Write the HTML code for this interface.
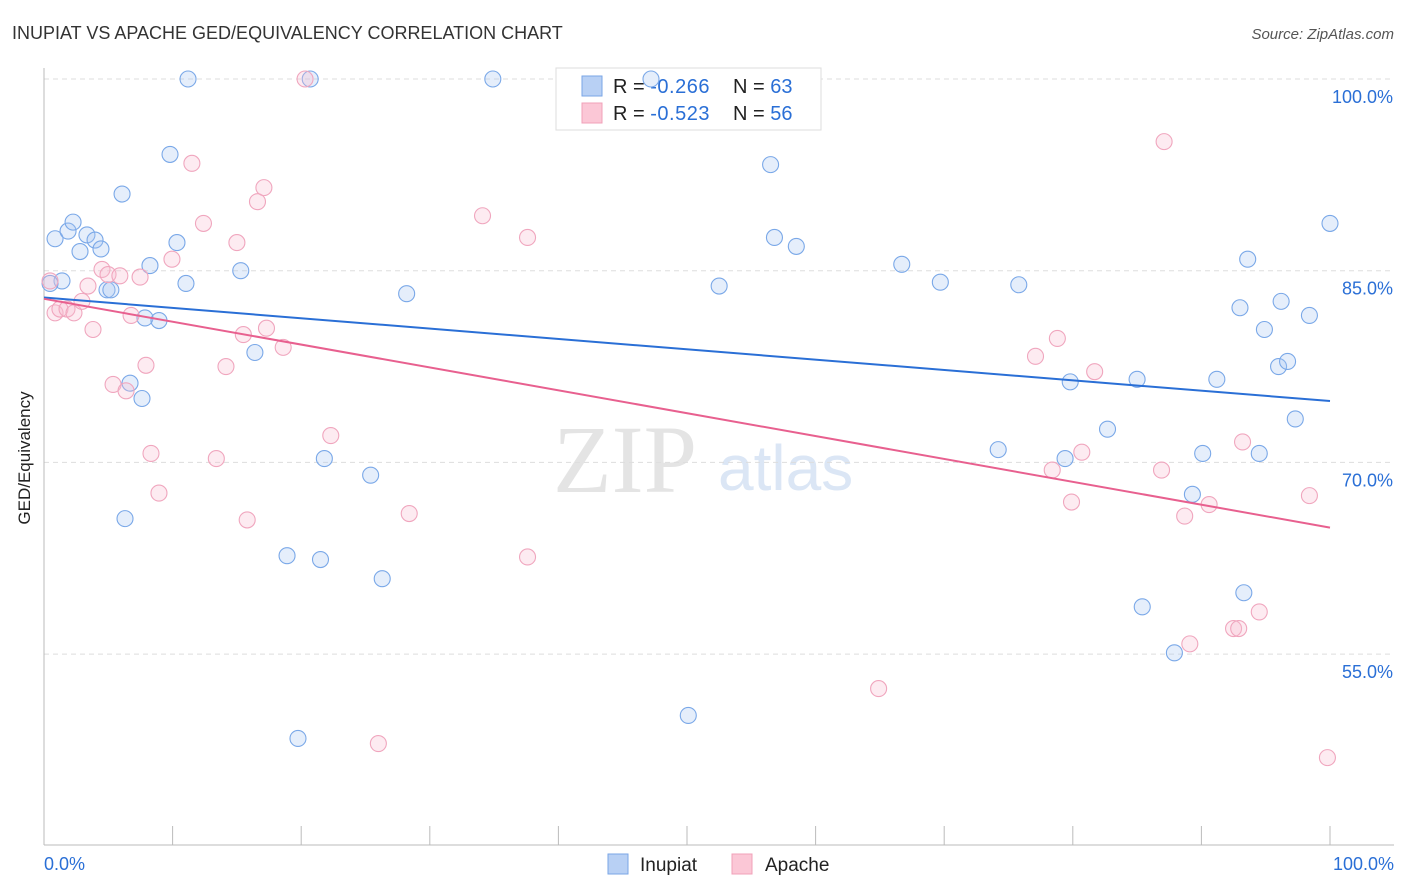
<!DOCTYPE html>
<html><head><meta charset="utf-8"><style>
body{margin:0;background:#fff;font-family:"Liberation Sans",sans-serif;}
svg{display:block}
</style></head><body>
<svg id="chart" width="1406" height="892" xmlns="http://www.w3.org/2000/svg">
<text x="12" y="39" font-size="18" fill="#333">INUPIAT VS APACHE GED/EQUIVALENCY CORRELATION CHART</text>
<text x="1394" y="39" font-size="15" fill="#555" font-style="italic" text-anchor="end">Source: ZipAtlas.com</text>
<text x="553" y="492" font-size="96" fill="#e4e4e4" font-family="Liberation Serif,serif" text-anchor="start">ZIP</text>
<text x="718" y="490" font-size="64" fill="#dbe6f5" text-anchor="start">atlas</text>
<g id="grid"></g>
<g id="axes"></g>
<g>
<rect x="556" y="68" width="265" height="62" fill="#fff" stroke="#ddd"/>
<rect x="582" y="76" width="20" height="20" fill="#b8d0f4" stroke="#7aa6e6"/>
<rect x="582" y="103" width="20" height="20" fill="#fbc7d6" stroke="#f0a0b8"/>
<text x="613" y="93" font-size="20" fill="#222">R = <tspan fill="#2a6fd6" letter-spacing="0.5">-0.266</tspan></text>
<text x="733" y="93" font-size="20" fill="#222">N = <tspan fill="#2a6fd6">63</tspan></text>
<text x="613" y="120" font-size="20" fill="#222">R = <tspan fill="#2a6fd6" letter-spacing="0.5">-0.523</tspan></text>
<text x="733" y="120" font-size="20" fill="#222">N = <tspan fill="#2a6fd6">56</tspan></text>
</g>
<g id="pts"></g>
<g id="trends"></g>
<g>
<rect x="608" y="854" width="20" height="20" fill="#b8d0f4" stroke="#7aa6e6"/>
<text x="640" y="871" font-size="19" fill="#222">Inupiat</text>
<rect x="732" y="854" width="20" height="20" fill="#fbc7d6" stroke="#f0a0b8"/>
<text x="765" y="871" font-size="19" fill="#222">Apache</text>
</g>
<text x="30" y="458" font-size="17" fill="#222" transform="rotate(-90 30 458)" text-anchor="middle">GED/Equivalency</text>
</svg>
<script>
const yTicks=[100,85,70,55];
const yTickLabels=["100.0%","85.0%","70.0%","55.0%"];
const xTickLabels=["0.0%","100.0%"];
const blueX=[0.86,1.87,2.26,2.8,3.34,3.97,4.43,1.4,0.47,4.9,5.2,6.07,8.24,7.85,8.94,6.69,7.62,6.3,9.8,10.34,11.04,11.2,15.3,16.4,20.7,18.9,19.75,21.8,21.5,25.4,26.3,28.2,34.9,47.2,50.1,52.5,56.5,56.8,58.5,66.7,69.7,75.8,74.2,79.4,79.8,82.7,85.0,85.4,87.9,89.3,90.1,91.2,93.3,93.6,93.0,94.5,94.9,96.2,96.0,96.7,97.3,98.4,100];
const blueY=[87.5,88.1,88.8,86.5,87.8,87.4,86.7,84.2,84.0,83.5,83.5,91.0,85.4,81.3,81.1,76.2,75.0,65.6,94.1,87.2,84.0,100,85.0,78.6,100,62.7,48.4,70.3,62.4,69.0,60.9,83.2,100,100,50.2,83.8,93.3,87.6,86.9,85.5,84.1,83.9,71.0,70.3,76.3,72.6,76.5,58.7,55.1,67.5,70.7,76.5,59.8,85.9,82.1,70.7,80.4,82.6,77.5,77.9,73.4,81.5,88.7];
const pinkX=[0.47,0.86,1.24,1.79,2.33,2.95,3.42,3.81,4.51,4.98,5.9,5.37,6.38,6.77,7.47,7.93,8.32,8.94,9.95,11.5,12.4,13.4,14.15,15.0,15.5,15.8,16.6,17.1,17.3,18.6,20.3,22.3,26.0,28.4,34.1,37.6,37.6,64.9,77.1,78.4,78.8,79.9,80.7,81.7,86.9,87.1,88.7,89.1,90.6,92.5,92.9,93.2,94.5,98.4,99.8];
const pinkY=[84.2,81.7,82.0,82.0,81.7,82.6,83.8,80.4,85.1,84.7,84.6,76.1,75.6,81.5,84.5,77.6,70.7,67.6,85.9,93.4,88.7,70.3,77.5,87.2,80.0,65.5,90.4,91.5,80.5,79.0,100,72.1,48.0,66.0,89.3,87.6,62.6,52.3,78.3,69.4,79.7,66.9,70.8,77.1,69.4,95.1,65.8,55.8,66.7,57.0,57.0,71.6,58.3,67.4,46.9];
const blueTrend=[82.9,74.8];
const pinkTrend=[82.8,64.9];
const X=v=>44+v*12.86, Y=v=>79+(100-v)*12.78;
const NS="http://www.w3.org/2000/svg";
function mk(t,a,p){const e=document.createElementNS(NS,t);for(const k in a)e.setAttribute(k,a[k]);p.appendChild(e);return e;}
const grid=document.getElementById('grid'),axes=document.getElementById('axes'),pts=document.getElementById('pts'),tr=document.getElementById('trends');
yTicks.forEach((t,i)=>{
 const l=mk('line',{x1:44,x2:1394,y1:Y(t),y2:Y(t),stroke:'#ddd','stroke-dasharray':'5,4'},grid);
 
 
 const tx=mk('text',{x:1393,y:Y(t)+24,'font-size':18,fill:'#2a6fd6','text-anchor':'end'},axes);
 tx.textContent=yTickLabels[i];
 
 
});
const ax=mk('line',{x1:44,x2:1394,y1:845,y2:845,stroke:'#bbb'},axes);


const ay=mk('line',{x1:44,x2:44,y1:68,y2:845,stroke:'#bbb'},axes);


for(let i=0;i<=10;i++){const t=mk('line',{x1:X(i*10),x2:X(i*10),y1:826,y2:845,stroke:'#bbb'},axes);
 
 }
[[0,'start',44],[100,'end',1394]].forEach((d,i)=>{const t=mk('text',{x:d[2],y:870,'font-size':18,fill:'#2a6fd6','text-anchor':d[1]},axes);t.textContent=xTickLabels[i];
 
 });
function series(xs,ys,fill,stroke,name){xs.forEach((x,i)=>{const c=mk('circle',{cx:X(x),cy:Y(ys[i]),r:8,fill:fill,'fill-opacity':0.3,stroke:stroke,'stroke-width':1.1},pts);
 
 });}
series(blueX,blueY,'#a9c8f2','#7aa8e8','inupiat-point');
series(pinkX,pinkY,'#f8bcd0','#f0a6be','apache-point');
const bl=mk('line',{x1:X(0),y1:Y(blueTrend[0]),x2:X(100),y2:Y(blueTrend[1]),stroke:'#2a6fd6','stroke-width':2},tr);


const pl=mk('line',{x1:X(0),y1:Y(pinkTrend[0]),x2:X(100),y2:Y(pinkTrend[1]),stroke:'#e8608f','stroke-width':2},tr);


</script>
</body></html>
